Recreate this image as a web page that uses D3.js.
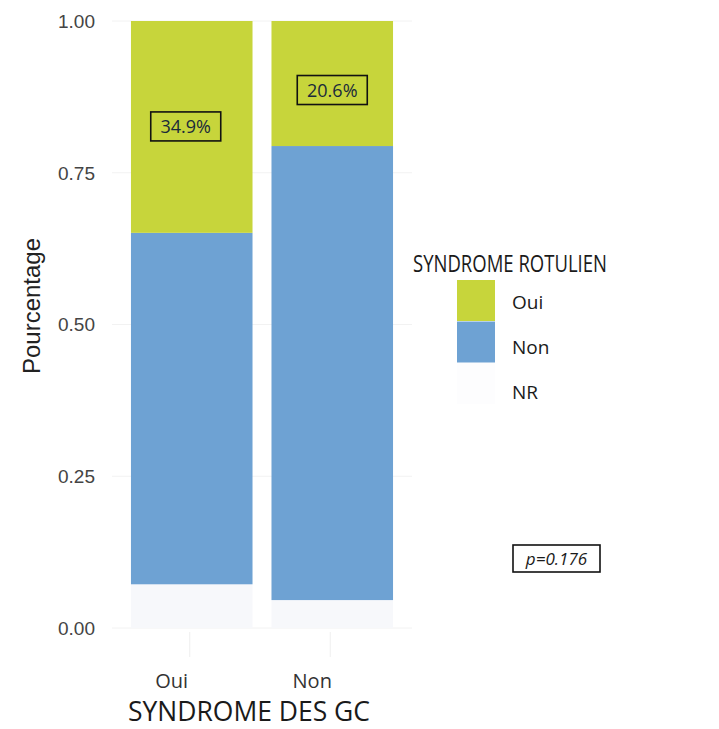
<!DOCTYPE html>
<html>
<head>
<meta charset="utf-8">
<script src="https://cdn.jsdelivr.net/npm/d3@7"></script>
<style>
  html, body { margin: 0; padding: 0; background: #ffffff; }
  svg { display: block; }
</style>
</head>
<body>
<svg id="chart" width="719" height="729"></svg>
<script>
// ---- data ----
const categories = ["Oui", "Non"];
const seriesKeys = ["NR", "Non", "Oui"]; // stacking order bottom -> top
const ouiValues = [0.349, 0.206];
const nonValues = [0.579, 0.748];
const nrValues = [0.072, 0.046];
const labelTexts = ["34.9%", "20.6%"];
const yTicks = [0, 0.25, 0.5, 0.75, 1.0];
const legendKeys = ["Oui", "Non", "NR"];
const colors = { Oui: "#c7d53b", Non: "#6ea2d3", NR: "#f7f8fb" };
const pValueText = "p=0.176";

const rows = categories.map((c, i) => ({ cat: c, Oui: ouiValues[i], Non: nonValues[i], NR: nrValues[i] }));

const svg = d3.select("#chart");

const x = d3.scaleBand().domain(categories).range([112, 412]).paddingInner(0.135).paddingOuter(0.135);
const y = d3.scaleLinear().domain([0, 1]).range([628, 21]);

// gridlines
svg.append("g").selectAll("line").data(yTicks).join("line")
  .attr("x1", 112).attr("x2", 412)
  .attr("y1", d => y(d)).attr("y2", d => y(d))
  .attr("stroke", "#f2f2f2").attr("stroke-width", 1);

// x tick marks (faint)
svg.append("g").selectAll("line").data(categories).join("line")
  .attr("x1", d => x(d) + x.bandwidth() / 2 - 2).attr("x2", d => x(d) + x.bandwidth() / 2 - 2)
  .attr("y1", 632).attr("y2", 657)
  .attr("stroke", "#efefef").attr("stroke-width", 1);

// stacked bars
const stacked = d3.stack().keys(seriesKeys)(rows);
svg.append("g").selectAll("g").data(stacked).join("g")
  .attr("fill", d => colors[d.key])
  .selectAll("rect").data(d => d).join("rect")
  .attr("x", d => x(d.data.cat))
  .attr("width", x.bandwidth())
  .attr("y", d => y(d[1]))
  .attr("height", d => y(d[0]) - y(d[1]));

// percentage labels with boxes
const ouiLayer = stacked.find(s => s.key === "Oui");
const lab = svg.append("g").selectAll("g").data(ouiLayer).join("g")
  .attr("transform", (d, i) => `translate(${x(d.data.cat) + x.bandwidth() / 2 - (i === 0 ? 6 : 0)},${(y(d[0]) + y(d[1])) / 2 + (i === 0 ? 0 : 7)})`);
lab.append("rect")
  .attr("x", -35).attr("y", -15).attr("width", 70).attr("height", 29)
  .attr("fill", "none").attr("stroke", "#111").attr("stroke-width", 1.6);
lab.append("text")
  .attr("text-anchor", "middle").attr("dy", "0.36em")
  .attr("font-family", "Open Sans, sans-serif").attr("font-size", 18)
  .attr("fill", "#1a2a3a")
  .text((d, i) => labelTexts[i]);

// y axis tick labels
svg.append("g").selectAll("text").data(yTicks).join("text")
  .attr("x", 95).attr("y", d => y(d)).attr("dy", "0.36em")
  .attr("text-anchor", "end")
  .attr("font-family", "Liberation Sans, Arial, sans-serif").attr("font-size", 19)
  .attr("fill", "#444")
  .text(d => d3.format(".2f")(d));

// y axis title
svg.append("text")
  .attr("transform", "translate(40,306) rotate(-90)")
  .attr("text-anchor", "middle")
  .attr("font-family", "Liberation Sans, Arial, sans-serif").attr("font-size", 24)
  .attr("fill", "#222")
  .text("Pourcentage");

// x tick labels
svg.append("g").selectAll("text").data(categories).join("text")
  .attr("x", d => x(d) + x.bandwidth() / 2 - 20).attr("y", 688)
  .attr("text-anchor", "middle")
  .attr("font-family", "Open Sans, sans-serif").attr("font-size", 20)
  .attr("fill", "#333")
  .text(d => d);

// x axis title
svg.append("text")
  .attr("x", 128).attr("y", 721)
  .attr("textLength", 242).attr("lengthAdjust", "spacingAndGlyphs")
  .attr("font-family", "Open Sans, sans-serif").attr("font-size", 27)
  .attr("fill", "#1a1a1a")
  .text("SYNDROME DES GC");

// legend
svg.append("text")
  .attr("x", 413).attr("y", 272)
  .attr("textLength", 194).attr("lengthAdjust", "spacingAndGlyphs")
  .attr("font-family", "Open Sans, sans-serif").attr("font-size", 23)
  .attr("fill", "#1a1a1a")
  .text("SYNDROME ROTULIEN");

const legKeys = svg.append("g").selectAll("rect").data(legendKeys).join("rect")
  .attr("x", 457).attr("y", (d, i) => 280 + i * 41.5)
  .attr("width", 38).attr("height", 41)
  .attr("fill", d => d === "NR" ? "#fdfdfe" : colors[d]);
svg.append("g").selectAll("text").data(legendKeys).join("text")
  .attr("x", 512).attr("y", (d, i) => 302 + i * 45).attr("dy", "0.35em")
  .attr("font-family", "Open Sans, sans-serif").attr("font-size", 19)
  .attr("fill", "#1a1a1a")
  .text(d => d);

// p-value box
const pg = svg.append("g").attr("transform", "translate(513,545)");
pg.append("rect").attr("width", 87).attr("height", 27)
  .attr("fill", "none").attr("stroke", "#111").attr("stroke-width", 1.6);
pg.append("text")
  .attr("x", 43.5).attr("y", 13.5).attr("dy", "0.36em")
  .attr("text-anchor", "middle")
  .attr("font-family", "Open Sans, sans-serif").attr("font-size", 17)
  .attr("font-style", "italic")
  .attr("fill", "#1a1a1a")
  .text(pValueText);
</script>
</body>
</html>
